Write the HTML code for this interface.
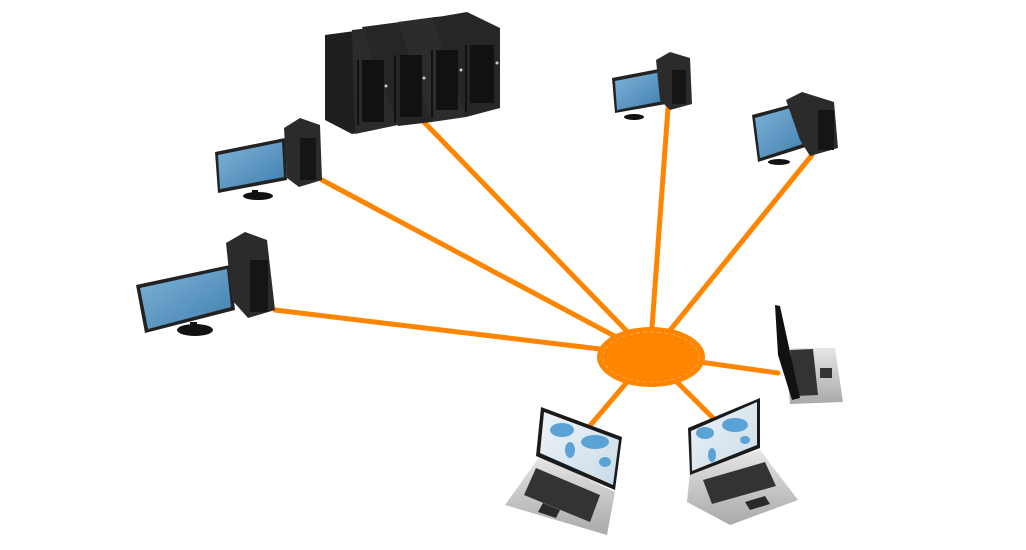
<!DOCTYPE html>
<html><head><meta charset="utf-8"><style>
html,body{margin:0;padding:0;background:#fff;width:1026px;height:550px;overflow:hidden}
</style></head><body>
<svg width="1026" height="550" viewBox="0 0 1026 550" xmlns="http://www.w3.org/2000/svg">
<defs>
<linearGradient id="scr" x1="0" y1="0" x2="1" y2="1"><stop offset="0" stop-color="#7fb3d8"/><stop offset="1" stop-color="#3f7fae"/></linearGradient>
<linearGradient id="lap" x1="0" y1="0" x2="0" y2="1"><stop offset="0" stop-color="#e6e6e6"/><stop offset="1" stop-color="#a9a9a9"/></linearGradient>
<linearGradient id="map" x1="0" y1="0" x2="1" y2="1"><stop offset="0" stop-color="#eef3f7"/><stop offset="1" stop-color="#c9dbe8"/></linearGradient>
</defs>
<g stroke="#ff8400" stroke-width="5" stroke-linecap="round">
<line x1="650" y1="355" x2="422" y2="120"/>
<line x1="650" y1="355" x2="322" y2="180"/>
<line x1="650" y1="355" x2="275" y2="310"/>
<line x1="650" y1="355" x2="668" y2="108"/>
<line x1="650" y1="355" x2="812" y2="155"/>
<line x1="650" y1="355" x2="778" y2="373"/>
<line x1="650" y1="355" x2="588" y2="428"/>
<line x1="650" y1="355" x2="713" y2="418"/>
</g>
<ellipse cx="651" cy="357" rx="54" ry="30" fill="#ff8400"/>
<ellipse cx="651" cy="357" rx="48" ry="25" fill="none" stroke="#ffb060" stroke-width="0.8" stroke-dasharray="4 3"/>

<!-- servers -->
<g>
<polygon points="325,35 362,30 362,132 352,134 325,120" fill="#1e1f1e"/>
<polygon points="352,30 395,25 398,125 355,134" fill="#2a2b2a"/>
<polygon points="362,27 400,22 432,20 432,122 398,126" fill="#252625"/>
<polygon points="398,22 435,17 465,15 466,117 432,122" fill="#2b2c2b"/>
<polygon points="432,18 467,12 500,28 500,108 466,117" fill="#252625"/>
<g stroke="#111" stroke-width="2">
<line x1="358" y1="60" x2="358" y2="125"/><line x1="395" y1="55" x2="395" y2="123"/><line x1="432" y1="50" x2="432" y2="118"/><line x1="466" y1="45" x2="466" y2="112"/>
</g>
<g fill="#111">
<rect x="362" y="60" width="22" height="62"/><rect x="400" y="55" width="22" height="62"/><rect x="436" y="50" width="22" height="60"/><rect x="470" y="45" width="24" height="58"/>
</g>
<g fill="#ccc"><circle cx="386" cy="86" r="1.5"/><circle cx="424" cy="78" r="1.5"/><circle cx="461" cy="70" r="1.5"/><circle cx="497" cy="63" r="1.5"/></g>
</g>

<!-- PC1 -->
<polygon points="215,152 285,138 287,180 218,193" fill="#222"/>
<polygon points="218,155 282,142 284,177 220,189" fill="url(#scr)"/>
<rect x="252" y="190" width="6" height="6" fill="#111"/>
<ellipse cx="258" cy="196" rx="15" ry="4" fill="#111"/>
<polygon points="284,128 300,118 320,125 322,180 299,187 287,178" fill="#2a2b2a"/>
<rect x="300" y="138" width="16" height="42" fill="#151515"/>

<!-- PC2 -->
<polygon points="136,285 230,265 235,310 145,333" fill="#222"/>
<polygon points="140,288 227,269 231,307 148,329" fill="url(#scr)"/>
<rect x="190" y="322" width="7" height="8" fill="#111"/>
<ellipse cx="195" cy="330" rx="18" ry="6" fill="#111"/>
<polygon points="226,243 245,232 267,240 275,310 248,318 232,300" fill="#2a2b2a"/>
<rect x="250" y="260" width="18" height="52" fill="#151515"/>

<!-- top PC -->
<polygon points="612,78 664,68 666,104 615,113" fill="#222"/>
<polygon points="615,81 661,72 663,101 617,110" fill="url(#scr)"/>
<ellipse cx="634" cy="117" rx="10" ry="3" fill="#111"/>
<polygon points="656,60 670,52 690,58 692,104 670,110 660,100" fill="#2a2b2a"/>
<rect x="672" y="70" width="14" height="34" fill="#151515"/>

<!-- right PC -->
<polygon points="752,115 808,100 812,145 758,162" fill="#222"/>
<polygon points="755,118 805,104 809,142 760,158" fill="url(#scr)"/>
<ellipse cx="779" cy="162" rx="11" ry="3" fill="#111"/>
<polygon points="786,100 802,92 834,102 838,148 810,156 800,140" fill="#2a2b2a"/>
<rect x="818" y="110" width="16" height="40" fill="#151515"/>

<!-- laptop right -->
<polygon points="785,348 835,348 843,402 790,404" fill="url(#lap)"/>
<polygon points="790,350 813,349 818,395 796,396" fill="#333"/>
<rect x="820" y="368" width="12" height="10" fill="#333"/>
<polygon points="775,305 780,306 800,398 792,400 778,355" fill="#111"/>

<!-- laptop bottom-left -->
<polygon points="540,456 615,492 607,535 505,505" fill="url(#lap)"/>
<polygon points="536,468 600,495 590,522 524,495" fill="#333"/>
<polygon points="543,503 560,510 556,518 538,512" fill="#2a2a2a"/>
<polygon points="541,407 622,437 615,490 536,456" fill="#1a1a1a"/>
<polygon points="544,412 619,440 613,485 540,453" fill="url(#map)"/>
<g fill="#5ba3d6"><ellipse cx="562" cy="430" rx="12" ry="7"/><ellipse cx="570" cy="450" rx="5" ry="8"/><ellipse cx="595" cy="442" rx="14" ry="7"/><ellipse cx="605" cy="462" rx="6" ry="5"/></g>

<!-- laptop bottom-right -->
<polygon points="690,470 760,450 798,500 730,525 687,502" fill="url(#lap)"/>
<polygon points="703,480 765,462 776,486 712,504" fill="#333"/>
<polygon points="745,502 765,496 770,504 750,510" fill="#2a2a2a"/>
<polygon points="688,428 760,398 760,448 690,475" fill="#1a1a1a"/>
<polygon points="691,431 757,402 757,445 692,471" fill="url(#map)"/>
<g fill="#5ba3d6"><ellipse cx="705" cy="433" rx="9" ry="6"/><ellipse cx="712" cy="455" rx="4" ry="7"/><ellipse cx="735" cy="425" rx="13" ry="7"/><ellipse cx="745" cy="440" rx="5" ry="4"/></g>
</svg>
</body></html>
